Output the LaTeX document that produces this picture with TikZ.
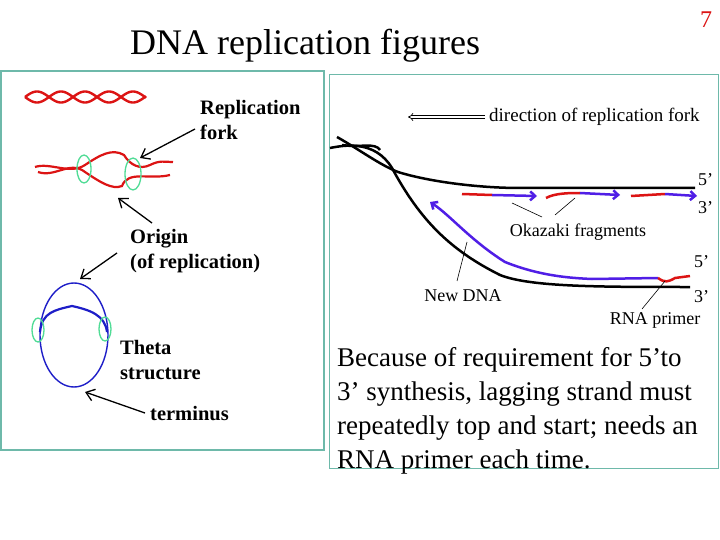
\documentclass[tikz,border=0pt]{standalone}
\usepackage{fontspec}
\setmainfont{Liberation Serif}
\usetikzlibrary{arrows.meta}
\definecolor{teal1}{RGB}{110,185,170}
\definecolor{dred}{RGB}{220,20,20}
\definecolor{dblue}{RGB}{30,30,200}
\definecolor{vblue}{RGB}{80,30,230}
\definecolor{lgreen}{RGB}{80,220,150}
\tikzset{
 lab/.style={font=\fontsize{20.5}{25}\selectfont\bfseries, align=left, anchor=west, inner sep=0pt},
 rlab/.style={font=\fontsize{18}{20}\selectfont, inner sep=0pt},
 poi/.style={-{Straight Barb[length=8pt,width=12pt]}, line width=1.3pt},
 thin/.style={line width=0.6pt},
 strand/.style={line width=2.5pt, line join=round},
 gring/.style={lgreen, line width=1.3pt},
}
\begin{document}
\begin{tikzpicture}[x=1pt,y=-1pt]
\useasboundingbox (0,0) rectangle (720,540);
\fill[white] (0,0) rectangle (720,540);
\node[font=\fontsize{36}{38}\selectfont, anchor=west, inner sep=0pt] (title) at (130,46) {DNA replication figures};
\node[font=\fontsize{24}{26}\selectfont, text=dred, inner sep=0pt] (pg) at (706,20) {7};
% left panel
\draw[teal1, line width=2pt] (1,71) rectangle (324,450);
\draw[dred, line width=2.4pt, domain=25:146, samples=100] plot (\x, {97+5.5*sin(7.5*(\x-25))});
\draw[dred, line width=2.4pt, domain=25:146, samples=100] plot (\x, {97-5.5*sin(7.5*(\x-25))});
% fork
\draw[dred, line width=2.2pt] (35,167) .. controls (50,162) and (70,175) .. (85,165) .. controls (100,155) and (112,148) .. (124,155) .. controls (130,165) and (140,170) .. (150,165) .. controls (160,160) and (165,162) .. (173,162);
\draw[dred, line width=2.2pt] (38,172) .. controls (55,178) and (70,160) .. (85,172) .. controls (100,182) and (112,190) .. (122,186) .. controls (128,170) and (150,180) .. (170,175);
\draw[gring] (84,169) ellipse (7 and 14);
\draw[gring] (133,174) ellipse (8 and 16);
% theta
\draw[dblue, line width=1.4pt] (74,335) ellipse (34 and 52);
\draw[dblue, line width=2.2pt] (40,332) .. controls (42,312) and (55,310) .. (72,306) .. controls (90,310) and (105,315) .. (107,332);
\draw[gring] (38,330) ellipse (6 and 12);
\draw[gring] (105,329) ellipse (6 and 12);
\node[lab] (rf) at (200,120) {Replication\\fork};
\node[lab] (orig) at (130,251) {Origin\\(of replication)};
\node[lab] (theta) at (120,360) {Theta\\structure};
\node[lab] (term) at (150,414) {terminus};
\coordinate (a1) at (140,158);
\coordinate (a2) at (118,198);
\coordinate (a3) at (80,279);
\coordinate (a4) at (85,392);
\draw[poi] (195,129) -- (a1);
\draw[poi] (152,223) -- (a2);
\draw[poi] (117,253) -- (a3);
\draw[poi] (145,413) -- (a4);
% right panel
\draw[teal1, line width=1pt] (329,75) rectangle (718,468);
\node[rlab, anchor=west, font=\fontsize{19}{21}\selectfont] (dir) at (489,117) {direction of replication fork};
\coordinate (dl) at (408,117);
\draw[-{Implies}, double, double distance=2pt, line width=0.7pt] (dir.west) ++(-4,0) -- (dl);
\draw[strand] (337,137) .. controls (360,150) and (380,165) .. (398,172) .. controls (430,182) and (480,188) .. (520,188) -- (695,188);
\draw[strand] (330,148) .. controls (345,145) and (375,140) .. (392,168) .. controls (420,220) and (450,250) .. (500,275) .. controls (530,287) and (600,287) .. (690,287);
\draw[strand] (342,145) .. controls (360,148) and (375,142) .. (380,150);
% okazaki
\draw[dred, line width=2.5pt] (462,194) -- (492,195);
\draw[vblue, line width=2.5pt, -{Straight Barb[length=5pt,width=9pt]}] (492,195) -- (537,196);
\draw[dred, line width=2.5pt] (546,198) .. controls (555,193) and (570,193) .. (580,193);
\draw[vblue, line width=2.5pt, -{Straight Barb[length=5pt,width=9pt]}] (580,193) -- (620,195);
\draw[dred, line width=2.5pt] (631,196) -- (665,194);
\draw[vblue, line width=2.5pt, -{Straight Barb[length=5pt,width=9pt]}] (665,194) -- (697,196);
\draw[vblue, line width=2.5pt, {Straight Barb[length=5pt,width=9pt]}-] (430,202) .. controls (450,215) and (470,240) .. (505,262) .. controls (540,276) and (570,278) .. (592,279) -- (658,278);
\draw[dred, line width=2.5pt] (658,278) .. controls (665,283) and (668,282) .. (675,278) -- (690,276);
\node[rlab, anchor=west] (p5a) at (698,180) {5'};
\node[rlab, anchor=west] (p3a) at (698,208) {3'};
\node[rlab, anchor=west] (p5b) at (694,262) {5'};
\node[rlab, anchor=west] (p3b) at (694,297) {3'};
\node[rlab] (oka) at (578,232) {Okazaki fragments};
\node[rlab] (ndna) at (463,296) {New DNA};
\node[rlab] (rnap) at (655,320) {RNA primer};
\coordinate (o1) at (512,203);
\coordinate (o2) at (575,198);
\coordinate (n1) at (467,242);
\coordinate (r1) at (665,281);
\draw[thin] (542,217) -- (o1);
\draw[thin] (555,215) -- (o2);
\draw[thin] (457,281) -- (n1);
\draw[thin] (642,309) -- (r1);
\fill[white] (330,336) rectangle (717,467);
\node[font=\fontsize{27}{34}\selectfont, align=left, anchor=north west, inner sep=0pt] (txt) at (337,347) {Because of requirement for 5’to\\3’ synthesis, lagging strand must\\repeatedly top and start; needs an\\RNA primer each time.};
\end{tikzpicture}
\end{document}
